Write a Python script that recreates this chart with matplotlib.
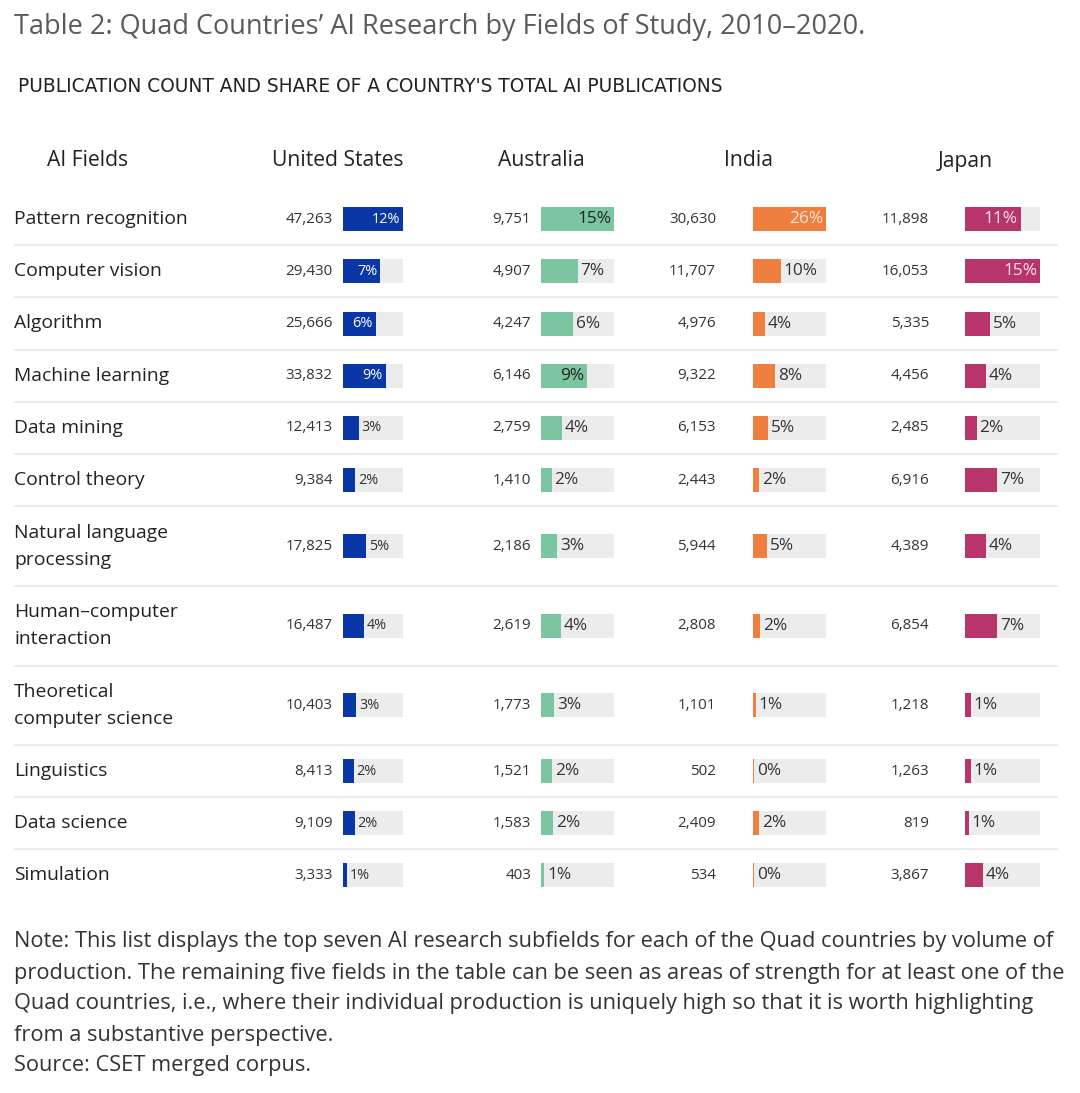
import matplotlib.pyplot as plt

fields = ["Pattern recognition", "Computer vision", "Algorithm", "Machine learning",
          "Data mining", "Control theory", "Natural language\nprocessing",
          "Human\u2013computer\ninteraction", "Theoretical\ncomputer science",
          "Linguistics", "Data science", "Simulation"]
countries = ["United States", "Australia", "India", "Japan"]

us_counts = [47263, 29430, 25666, 33832, 12413, 9384, 17825, 16487, 10403, 8413, 9109, 3333]
us_share = [12, 7, 6, 9, 3, 2, 5, 4, 3, 2, 2, 1]
au_counts = [9751, 4907, 4247, 6146, 2759, 1410, 2186, 2619, 1773, 1521, 1583, 403]
au_share = [15, 7, 6, 9, 4, 2, 3, 4, 3, 2, 2, 1]
in_counts = [30630, 11707, 4976, 9322, 6153, 2443, 5944, 2808, 1101, 502, 2409, 534]
in_share = [26, 10, 4, 8, 5, 2, 5, 2, 1, 0, 2, 0]
jp_counts = [11898, 16053, 5335, 4456, 2485, 6916, 4389, 6854, 1218, 1263, 819, 3867]
jp_share = [11, 15, 5, 4, 2, 7, 4, 7, 1, 1, 1, 4]

title = "Table 2: Quad Countries\u2019 AI Research by Fields of Study, 2010\u20132020."
subtitle = "PUBLICATION COUNT AND SHARE OF A COUNTRY'S TOTAL AI PUBLICATIONS"
note_lines = [
    "Note: This list displays the top seven AI research subfields for each of the Quad countries by volume of",
    "production. The remaining five fields in the table can be seen as areas of strength for at least one of the",
    "Quad countries, i.e., where their individual production is uniquely high so that it is worth highlighting",
    "from a substantive perspective.",
    "Source: CSET merged corpus.",
]

# --- layout (pixel units) ---
FONT = "Open Sans"
W, H = 1080, 1093
cols = [
    # count right edge, bar left, bar width, header centre, colour, inside text colour, pct size
    dict(cx=333, bx=343, bw=60, hx=338, color="#0a37a6", tin="white", ps=10.4),
    dict(cx=531, bx=541, bw=73, hx=541, color="#7cc5a1", tin="#222222", ps=12.4),
    dict(cx=716, bx=753, bw=73, hx=749, color="#ef7f3f", tin="#fbe6d9", ps=12.4),
    dict(cx=929, bx=965, bw=75, hx=965, color="#b8356b", tin="#fbe3ec", ps=12.4),
]
data = [(us_counts, us_share), (au_counts, au_share), (in_counts, in_share), (jp_counts, jp_share)]
row_h = [52.2] * 6 + [79.7] * 3 + [52] * 3
top = 193

fig = plt.figure(figsize=(W / 100, H / 100), dpi=100)
ax = fig.add_axes([0, 0, 1, 1])
ax.set_xlim(0, W)
ax.set_ylim(H, 0)
ax.axis("off")

ax.text(14, 27, title, fontsize=19.5, color="#5a5a5a", family=FONT, va="center")
ax.text(18, 86, subtitle, fontsize=13.4, color="#222222", family="DejaVu Sans", va="center")

# header
ax.text(88, 161, "AI Fields", fontsize=15.2, color="#222222", family=FONT,
        ha="center", va="center")
for c, name in zip(cols, countries):
    ax.text(c["hx"], 161, name, fontsize=15.2, color="#222222", family=FONT,
            ha="center", va="center")

# rows
edges = [top]
for h in row_h:
    edges.append(edges[-1] + h)
centers = [(edges[i] + edges[i + 1]) / 2 for i in range(len(fields))]

for i, y in enumerate(centers):
    parts = fields[i].split("\n")
    offs = [0] if len(parts) == 1 else [-13.5, 13.5]
    for p, o in zip(parts, offs):
        ax.text(14, y + o, p, fontsize=13.9, color="#222222", family=FONT, va="center")
    if i > 0:
        ax.plot([14, 1058], [edges[i], edges[i]], color="#ececec", lw=1.6,
                solid_capstyle="butt")

for c, (counts, share) in zip(cols, data):
    cmax = max(counts)
    fracs = [v / cmax for v in counts]
    ax.barh(centers, [c["bw"]] * len(centers), left=c["bx"], height=24,
            color="#ececec", zorder=1)
    ax.barh(centers, [f * c["bw"] for f in fracs], left=c["bx"], height=24,
            color=c["color"], zorder=2)
    for y, v, s, f in zip(centers, counts, share, fracs):
        ax.text(c["cx"], y, f"{v:,}", fontsize=10.9, color="#333333", family=FONT,
                ha="right", va="center")
        end = c["bx"] + f * c["bw"]
        if f > 0.52:
            ax.text(end - 3, y, f"{s}%", fontsize=c["ps"], color=c["tin"], family=FONT,
                    ha="right", va="center", zorder=3)
        else:
            ax.text(end + 3, y, f"{s}%", fontsize=c["ps"], color="#333333", family=FONT,
                    ha="left", va="center", zorder=3)

for k, line in enumerate(note_lines):
    ax.text(14, 942 + 31 * k, line, fontsize=15.7, color="#333333", family=FONT,
            va="center")

fig.savefig("out.png", dpi=100)
